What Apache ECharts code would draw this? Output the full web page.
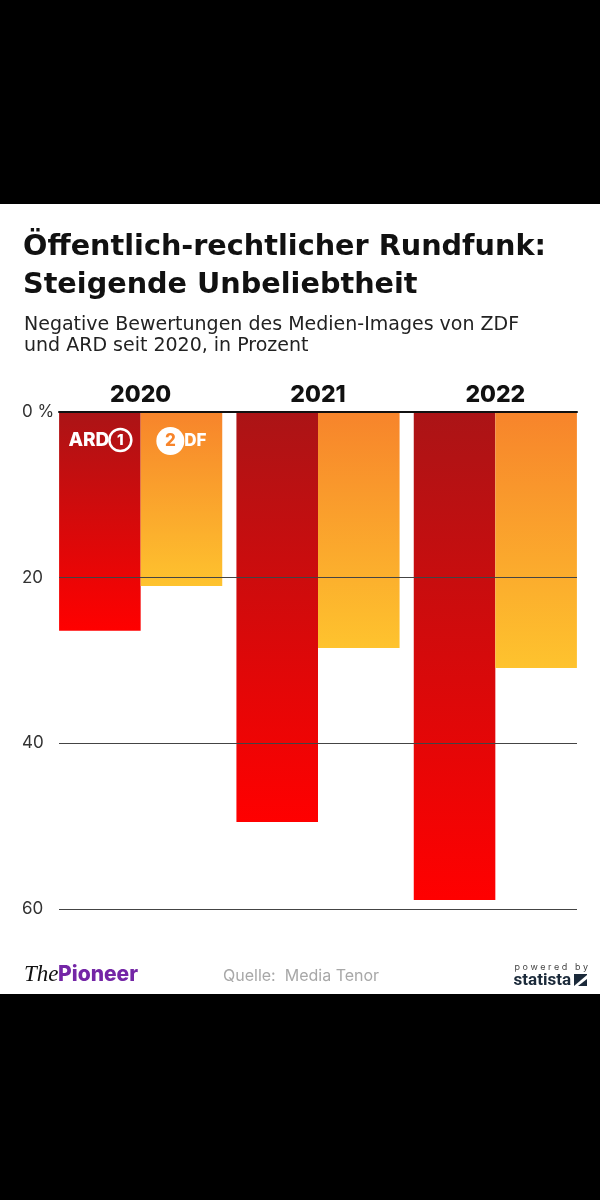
<!DOCTYPE html>
<html>
<head>
<meta charset="utf-8">
<script src="https://cdn.jsdelivr.net/npm/echarts@6/dist/echarts.min.js"></script>
<style>
html,body{margin:0;padding:0;background:#000;}
#c{width:600px;height:1200px;}
</style>
</head>
<body>
<div id="c"></div>
<script>
const years = ['2020', '2021', '2022'];
const ardValues = [26.4, 49.5, 58.9];
const zdfValues = [21.0, 28.5, 30.9];
const yTicks = [0, 20, 40, 60];

const chart = echarts.init(document.getElementById('c'));
const FONT = 'Inter, "Noto Sans", sans-serif';
const WIDE = '"DejaVu Sans", Inter, sans-serif';

const ardGrad = new echarts.graphic.LinearGradient(0, 0, 0, 1, [
  {offset: 0, color: '#ab1416'}, {offset: 1, color: '#ff0000'}]);
const zdfGrad = new echarts.graphic.LinearGradient(0, 0, 0, 1, [
  {offset: 0, color: '#f7842b'}, {offset: 1, color: '#fec32e'}]);

const ardData = ardValues.map((v, i) => i === 0 ? {
  value: v,
  label: {
    show: true, position: 'insideTop', distance: 17,
    formatter: '{a|ARD}{c|1}',
    rich: {
      a: {color: '#fff', fontSize: 19, fontWeight: 800, fontFamily: FONT},
      c: {color: '#fff', fontSize: 15, fontWeight: 800, fontFamily: FONT, borderColor: '#fff',
          borderWidth: 2.5, borderRadius: 13, width: 22, height: 22, align: 'center', lineHeight: 22}
    }
  }
} : v);

const zdfData = zdfValues.map((v, i) => i === 0 ? {
  value: v,
  label: {
    show: true, position: 'insideTop', distance: 15,
    formatter: '{z|2}{d|DF}',
    rich: {
      z: {color: '#f7842b', backgroundColor: '#fff', fontSize: 17, fontWeight: 800, fontFamily: FONT,
          borderRadius: 14, width: 28, height: 28, align: 'right', lineHeight: 28},
      d: {color: '#fff', fontSize: 17, fontWeight: 800, fontFamily: FONT}
    }
  }
} : v);

const option = {
  backgroundColor: '#000',
  animation: false,
  title: [
    {
      text: 'Öffentlich-rechtlicher Rundfunk:\nSteigende Unbeliebtheit',
      left: 18, top: 224,
      textStyle: {fontFamily: WIDE, fontSize: 28.7, fontWeight: 'bold', color: '#111', lineHeight: 38}
    },
    {
      text: 'Negative Bewertungen des Medien-Images von ZDF\nund ARD seit 2020, in Prozent',
      left: 19, top: 310,
      textStyle: {fontFamily: WIDE, fontSize: 19, fontWeight: 'normal', color: '#222', lineHeight: 21}
    }
  ],
  graphic: [
    {type: 'rect', z: -10, shape: {x: 0, y: 204, width: 600, height: 790}, style: {fill: '#fff'}},
    {type: 'text', x: 24, y: 975, style: {text: 'The', fontFamily: '"Liberation Serif", serif', fontStyle: 'italic',
      fontSize: 23, fill: '#111', verticalAlign: 'middle'}},
    {type: 'text', x: 58, y: 975, style: {text: 'Pioneer', fontFamily: FONT, fontWeight: 800,
      fontSize: 21, verticalAlign: 'middle', fill: '#7426a6'}},
    {type: 'text', x: 223, y: 976, style: {text: 'Quelle:  Media Tenor', fontFamily: FONT, fontSize: 16,
      fill: '#a8a8a8', verticalAlign: 'middle'}},
    {type: 'text', x: 588, y: 967, style: {text: 'p o w e r e d   b y', fontFamily: FONT, fontSize: 9,
      fill: '#444', align: 'right', verticalAlign: 'middle'}},
    {type: 'text', x: 571, y: 981, style: {text: 'statista', fontFamily: '"Roboto", sans-serif', fontWeight: 'bold', fontSize: 17,
      fill: '#1b2a3a', align: 'right', verticalAlign: 'middle'}},
    {type: 'rect', shape: {x: 574, y: 974, width: 13, height: 12}, style: {fill: '#1b2a3a'}},
    {type: 'polygon', shape: {points: [[574, 986], [587, 975], [587, 979], [578, 986]]}, style: {fill: '#fff'}}
  ],
  grid: [
    {left: 52, right: 16, top: 412, height: 497},
    {left: 59, right: 23, top: 412, height: 497}
  ],
  xAxis: [
    {
      gridIndex: 0, type: 'category', data: years, position: 'top',
      axisLine: {show: false}, axisTick: {show: false},
      axisLabel: {fontFamily: FONT, fontSize: 23, fontWeight: 800, color: '#111', margin: 5}
    },
    {
      gridIndex: 1, type: 'value', min: 0, max: 1, position: 'top', z: 10,
      axisLine: {show: true, onZero: false, lineStyle: {color: '#111', width: 2}},
      axisTick: {show: false}, axisLabel: {show: false}, splitLine: {show: false}
    }
  ],
  yAxis: [
    {gridIndex: 0, type: 'value', inverse: true, min: 0, max: 60, show: false},
    {
      gridIndex: 1, type: 'value', inverse: true, min: 0, max: 60, interval: 20, z: 10,
      axisLine: {show: false}, axisTick: {show: false},
      splitLine: {show: true, lineStyle: {color: '#444', width: 1}},
      axisLabel: {
        align: 'left', margin: 37, fontFamily: FONT, fontSize: 17, color: '#333',
        formatter: v => yTicks.includes(v) ? (v === 0 ? '0 %' : String(v)) : ''
      }
    }
  ],
  series: [
    {name: 'ARD', type: 'bar', xAxisIndex: 0, yAxisIndex: 0, data: ardData,
     barGap: '0%', barCategoryGap: '8%', itemStyle: {color: ardGrad}},
    {name: 'ZDF', type: 'bar', xAxisIndex: 0, yAxisIndex: 0, data: zdfData,
     barGap: '0%', barCategoryGap: '8%', itemStyle: {color: zdfGrad}}
  ]
};
chart.setOption(option);
</script>
</body>
</html>
